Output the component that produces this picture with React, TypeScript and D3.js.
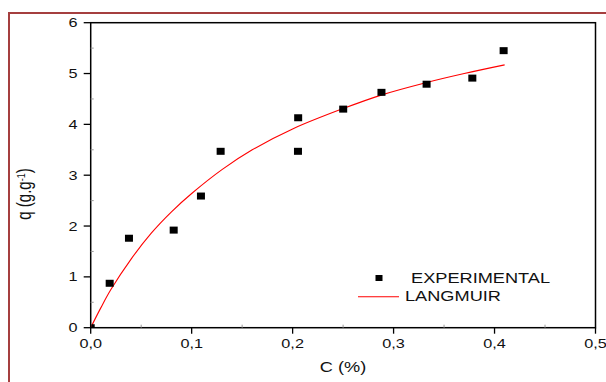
import React from "react";
import * as d3 from "d3";

const expC = [0.0, 0.0188, 0.0379, 0.0822, 0.1092, 0.1287, 0.2055, 0.2053, 0.2501, 0.288, 0.3327, 0.378, 0.409];
const expQ = [0.0, 0.874, 1.76, 1.92, 2.59, 3.47, 4.13, 3.47, 4.30, 4.63, 4.79, 4.91, 5.45];

const fitC = [0, 0.01, 0.02, 0.04, 0.06, 0.08, 0.1, 0.13, 0.16, 0.2, 0.25, 0.29, 0.33, 0.37, 0.41];
const fitQ = [0, 0.39, 0.75, 1.35, 1.86, 2.28, 2.64, 3.11, 3.50, 3.91, 4.31, 4.59, 4.81, 5.0, 5.17];

const xTicks = [0, 0.1, 0.2, 0.3, 0.4, 0.5];
const xMinor = [0.05, 0.15, 0.25, 0.35, 0.45];
const yTicks = [0, 1, 2, 3, 4, 5, 6];
const yMinor = [0.5, 1.5, 2.5, 3.5, 4.5, 5.5];

const W = 606;
const H = 382;
const left = 90.7;
const right = 595.5;
const top = 22.7;
const bottom = 327.7;
const SX = 1.3;

function T({ x, y, anchor = "start", size, children }: any) {
  return (
    <text
      transform={`translate(${x},${y}) scale(${SX},1)`}
      textAnchor={anchor}
      fontSize={size}
      fill="#111"
    >
      {children}
    </text>
  );
}

export default function App() {
  const x = d3.scaleLinear().domain([0, 0.5]).range([left, right]);
  const y = d3.scaleLinear().domain([0, 6]).range([bottom, top]);
  const fmt = (v: number) => v.toFixed(1).replace(".", ",");
  const line = d3
    .line<number>()
    .x((_, i) => x(fitC[i]))
    .y((d) => y(d))
    .curve(d3.curveCatmullRom);
  const font = "Liberation Sans, Arial, sans-serif";
  return (
    <svg
      width={W}
      height={H}
      style={{ position: "absolute", left: 0, top: 0, background: "#fff" }}
      fontFamily={font}
    >
      <defs>
        <clipPath id="plotclip">
          <rect x={left + 0.8} y={top} width={right - left} height={bottom - top - 0.8} />
        </clipPath>
      </defs>
      <line x1={8} x2={W} y1={13} y2={13} stroke="#a53f3f" strokeWidth={2} />
      <line x1={9} x2={9} y1={12} y2={H} stroke="#a53f3f" strokeWidth={2} />

      <path d={line(fitQ) || ""} fill="none" stroke="#ff0000" strokeWidth={1.1} />

      <g clipPath="url(#plotclip)">
        {expQ.map((q, i) => (
          <rect key={"p" + i} x={x(expC[i]) - 4} y={y(q) - 3.5} width={8} height={7} fill="#000" />
        ))}
      </g>

      <rect
        x={left}
        y={top}
        width={right - left}
        height={bottom - top}
        fill="none"
        stroke="#000"
        strokeWidth={1.5}
      />

      {xTicks.map((t) => (
        <g key={"xt" + t}>
          <line x1={x(t)} x2={x(t)} y1={bottom} y2={bottom + 6} stroke="#000" strokeWidth={1.3} />
          <T x={x(t)} y={348} anchor="middle" size={12.5}>
            {fmt(t)}
          </T>
        </g>
      ))}
      {xMinor.map((t) => (
        <line key={"xm" + t} x1={x(t)} x2={x(t)} y1={bottom} y2={bottom - 3} stroke="#999" strokeWidth={1} />
      ))}

      {yTicks.map((t) => (
        <g key={"yt" + t}>
          <line x1={left - 7} x2={left} y1={y(t)} y2={y(t)} stroke="#000" strokeWidth={1.3} />
          <T x={77.5} y={y(t) + 4.5} anchor="end" size={12.5}>
            {t}
          </T>
        </g>
      ))}
      {yMinor.map((t) => (
        <line key={"ym" + t} x1={left} x2={left + 3} y1={y(t)} y2={y(t)} stroke="#999" strokeWidth={1} />
      ))}

      <T x={343} y={372} anchor="middle" size={14}>
        C (%)
      </T>
      <text
        transform={`translate(31,194) rotate(-90) scale(1,${SX})`}
        textAnchor="middle"
        fontSize={15}
        fill="#111"
      >
        q (g.g
        <tspan baselineShift="super" fontSize={9}>
          -1
        </tspan>
        )
      </text>

      <rect x={375.5} y={275} width={7} height={6} fill="#000" />
      <T x={411} y={283} size={14}>
        EXPERIMENTAL
      </T>
      <line x1={358} x2={399} y1={296.7} y2={296.7} stroke="#ff0000" strokeWidth={1.1} />
      <T x={405} y={301} size={14}>
        LANGMUIR
      </T>
    </svg>
  );
}
